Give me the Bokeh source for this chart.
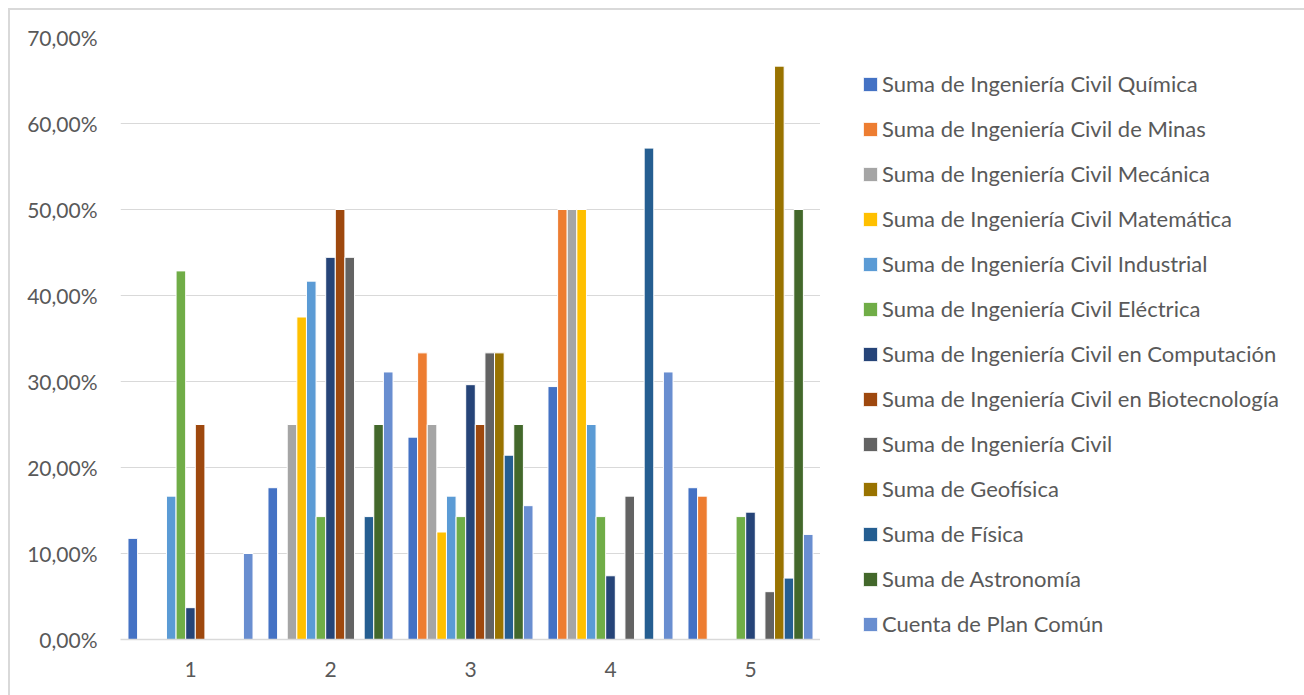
from bokeh.plotting import figure
from bokeh.layouts import row
from bokeh.models import ColumnDataSource, FactorRange, FixedTicker, Legend, LegendItem
from bokeh.transform import dodge
from bokeh.embed import file_html
from bokeh.resources import INLINE

categories = ["1", "2", "3", "4", "5"]

series_names = [
    "Suma de Ingeniería Civil Química",
    "Suma de Ingeniería Civil de Minas",
    "Suma de Ingeniería Civil Mecánica",
    "Suma de Ingeniería Civil Matemática",
    "Suma de Ingeniería Civil Industrial",
    "Suma de Ingeniería Civil Eléctrica",
    "Suma de Ingeniería Civil en Computación",
    "Suma de Ingeniería Civil en Biotecnología",
    "Suma de Ingeniería Civil",
    "Suma de Geofísica",
    "Suma de Física",
    "Suma de Astronomía",
    "Cuenta de Plan Común",
]

colors = ["#4472C4", "#ED7D31", "#A5A5A5", "#FFC000", "#5B9BD5", "#70AD47",
          "#264478", "#9E480E", "#636363", "#997300", "#255E91", "#43682B", "#698ED0"]

quimica      = [0.1176, 0.1765, 0.2353, 0.2941, 0.1765]
minas        = [0.0,    0.0,    0.3333, 0.5,    0.1667]
mecanica     = [0.0,    0.25,   0.25,   0.5,    0.0]
matematica   = [0.0,    0.375,  0.125,  0.5,    0.0]
industrial   = [0.1667, 0.4167, 0.1667, 0.25,   0.0]
electrica    = [0.4286, 0.1429, 0.1429, 0.1429, 0.1429]
computacion  = [0.0370, 0.4444, 0.2963, 0.0741, 0.1481]
biotec       = [0.25,   0.5,    0.25,   0.0,    0.0]
civil        = [0.0,    0.4444, 0.3333, 0.1667, 0.0556]
geofisica    = [0.0,    0.0,    0.3333, 0.0,    0.6667]
fisica       = [0.0,    0.1429, 0.2143, 0.5714, 0.0714]
astronomia   = [0.0,    0.25,   0.25,   0.0,    0.5]
plan_comun   = [0.10,   0.3111, 0.1556, 0.3111, 0.1222]

series_values = [quimica, minas, mecanica, matematica, industrial, electrica,
                 computacion, biotec, civil, geofisica, fisica, astronomia, plan_comun]

y_ticks = [0.0, 0.1, 0.2, 0.3, 0.4, 0.5, 0.6, 0.7]
y_tick_labels = ["0,00%", "10,00%", "20,00%", "30,00%", "40,00%", "50,00%", "60,00%", "70,00%"]

FONT = "Lato"
TEXT_COLOR = "#595959"

data = {"cat": categories}
for i, vals in enumerate(series_values):
    data[f"s{i}"] = vals
source = ColumnDataSource(data)

# ---- main chart ----
p = figure(
    x_range=FactorRange(*categories, range_padding=0),
    y_range=(0, 0.7),
    width=810, height=685,
    output_backend="svg", toolbar_location=None,
    min_border_left=110, min_border_right=0,
    min_border_top=27, min_border_bottom=56,
)

slot = 0.0687
n = len(series_values)
for i in range(n):
    off = (i - (n - 1) / 2) * slot
    p.vbar(x=dodge("cat", off, range=p.x_range), top=f"s{i}", width=slot,
           source=source, fill_color=colors[i], line_color="white", line_width=1)

p.outline_line_color = None
p.xgrid.grid_line_color = None
p.ygrid.grid_line_color = "#D9D9D9"
p.ygrid.grid_line_width = 1
p.ygrid.ticker = FixedTicker(ticks=y_ticks)

p.yaxis.ticker = FixedTicker(ticks=y_ticks)
p.yaxis.major_label_overrides = {t: l for t, l in zip(y_ticks, y_tick_labels)}
p.yaxis.axis_line_color = None
p.yaxis.major_tick_line_color = None
p.yaxis.minor_tick_line_color = None
p.yaxis.major_tick_out = 0
p.yaxis.major_label_standoff = 23

p.xaxis.axis_line_color = "#D9D9D9"
p.xaxis.axis_line_width = 1.5
p.xaxis.major_tick_line_color = None
p.xaxis.minor_tick_line_color = None
p.xaxis.major_tick_out = 0
p.xaxis.major_label_standoff = 22

for ax in (p.xaxis, p.yaxis):
    ax.major_label_text_font = FONT
    ax.major_label_text_font_size = "21px"
    ax.major_label_text_color = TEXT_COLOR

# ---- legend panel (zero-width bars far outside the visible range; only the legend shows) ----
lp = figure(
    x_range=FactorRange(*categories), y_range=(5, 6),
    width=484, height=685,
    output_backend="svg", toolbar_location=None,
    x_axis_type=None, y_axis_type=None,
    min_border=0,
)
lp.outline_line_color = None
lp.grid.visible = False

items = []
for i in range(n):
    r = lp.vbar(x="cat", top=f"s{i}", width=0, source=source,
                fill_color=colors[i], line_color="white", line_width=1)
    items.append(LegendItem(label=series_names[i], renderers=[r]))

legend = Legend(items=items, location=(41, 2), orientation="vertical",
                padding=0, margin=0, spacing=18,
                glyph_width=18, glyph_height=18, label_height=27,
                label_standoff=3,
                label_text_font=FONT, label_text_font_size="22px",
                label_text_color=TEXT_COLOR,
                border_line_alpha=0, background_fill_alpha=0)
lp.add_layout(legend, "center")

layout = row(p, lp)
layout.styles = {"margin-top": "8px", "margin-left": "8px",
                 "border-top": "2px solid #D9D9D9", "border-left": "2px solid #D9D9D9"}

open("out.html", "w").write(file_html(layout, INLINE))
